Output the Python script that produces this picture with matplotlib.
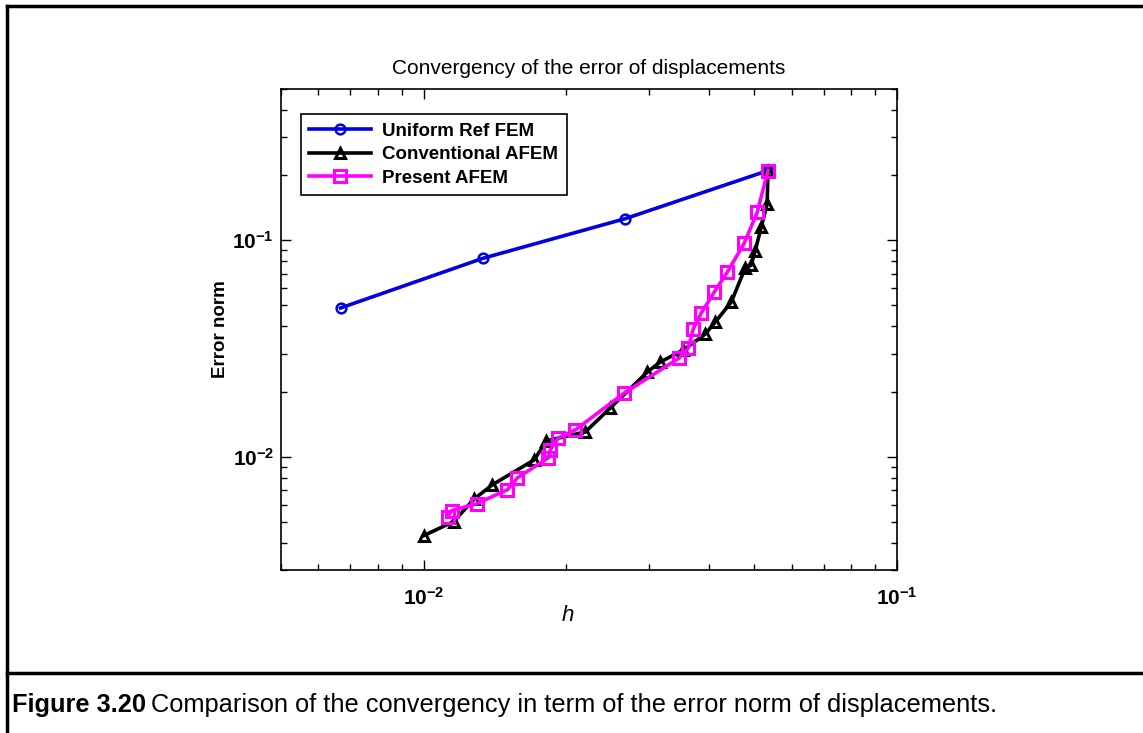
import math
import matplotlib
matplotlib.use('Agg')
import matplotlib.pyplot as plt
from matplotlib.lines import Line2D
from matplotlib.ticker import LogLocator, FuncFormatter, NullFormatter

plt.rcParams['font.family'] = ['Liberation Sans', 'DejaVu Sans']
plt.rcParams['mathtext.fontset'] = 'custom'
plt.rcParams['mathtext.rm'] = 'Liberation Sans'
plt.rcParams['mathtext.it'] = 'Liberation Sans:italic'
plt.rcParams['mathtext.bf'] = 'Liberation Sans:bold'

# data
h_uniform = [0.00668, 0.01335, 0.0267, 0.0534]
err_uniform = [0.0487, 0.0826, 0.126, 0.210]

h_conv = [0.01, 0.01157, 0.01281, 0.01398, 0.01714, 0.01817, 0.02197, 0.0248,
          0.02969, 0.03162, 0.03536, 0.03936, 0.0413, 0.04465, 0.04777, 0.0492,
          0.05015, 0.05165, 0.05317, 0.0534]
err_conv = [0.00432, 0.00502, 0.0064, 0.00743, 0.00969, 0.01185, 0.01303, 0.01682,
            0.02464, 0.02741, 0.03112, 0.03689, 0.04188, 0.0518, 0.0743, 0.0767,
            0.089, 0.1148, 0.1466, 0.210]

h_present = [0.01124, 0.01146, 0.01294, 0.01504, 0.01579, 0.01835, 0.01853, 0.01927,
             0.02093, 0.02655, 0.03467, 0.03624, 0.03712, 0.03859, 0.04111, 0.04379,
             0.04756, 0.05066, 0.0534]
err_present = [0.00529, 0.00564, 0.00607, 0.00705, 0.008, 0.00989, 0.01077, 0.01223,
               0.01332, 0.01972, 0.02859, 0.03178, 0.0389, 0.04609, 0.0576, 0.0712,
               0.0969, 0.1346, 0.210]

W, H = 1143, 733
fig = plt.figure(figsize=(W / 100, H / 100), dpi=100)
ax = fig.add_axes([281 / W, 1 - 570 / H, (897 - 281) / W, (570 - 89) / H])

ax.loglog(h_uniform, err_uniform, '-o', color='#0000e0', lw=2.6, ms=7,
          mfc='none', mew=1.8, label='Uniform Ref FEM')
ax.loglog(h_conv, err_conv, '-^', color='black', lw=2.6, ms=7.5,
          mfc='none', mew=2.2, label='Conventional AFEM')
ax.loglog(h_present, err_present, '-s', color='#ff00ff', lw=2.6, ms=8,
          mfc='none', mew=2.2, label='Present AFEM')

ax.set_xlim(0.005, 0.1)
ax.set_ylim(0.003, 0.5)

def pow_fmt(v, pos):
    e = int(round(math.log10(v)))
    return r'$\mathbf{10^{%d}}$' % e

for a in (ax.xaxis, ax.yaxis):
    a.set_major_locator(LogLocator(base=10, numticks=10))
    a.set_minor_locator(LogLocator(base=10, subs=range(2, 10), numticks=20))
    a.set_major_formatter(FuncFormatter(pow_fmt))
    a.set_minor_formatter(NullFormatter())

ax.tick_params(which='both', direction='in', top=True, right=True, labelsize=15)
ax.tick_params(which='major', length=7, width=1)
ax.tick_params(which='minor', length=4, width=1)
ax.tick_params(axis='x', which='major', pad=12)
ax.tick_params(axis='y', which='major', pad=5)
for s in ax.spines.values():
    s.set_linewidth(1.2)

ax.set_title('Convergency of the error of displacements', fontsize=15, pad=11)
ax.set_xlabel('$h$', fontsize=16)
ax.set_ylabel('Error norm', fontsize=13.5, fontweight='bold')
ax.xaxis.set_label_coords(0.466, -0.073)
ax.yaxis.set_label_coords(-0.084, 0.5)

leg = ax.legend(loc='upper left', bbox_to_anchor=(0.032, 0.948), fancybox=False,
                edgecolor='black', framealpha=1, handlelength=3.3,
                prop={'size': 13.5, 'weight': 'bold'}, borderpad=0.45,
                labelspacing=0.35, borderaxespad=0, handletextpad=0.6)
leg.get_frame().set_linewidth(1.2)

# page frame around figure and caption
fig.add_artist(Line2D([7 / W, 7 / W], [0, 1 - 6 / H], color='black', lw=2.5))
fig.add_artist(Line2D([7 / W, 1], [1 - 6 / H, 1 - 6 / H], color='black', lw=2.5))
fig.add_artist(Line2D([7 / W, 1], [1 - 673 / H, 1 - 673 / H], color='black', lw=2.5))

cap1 = fig.text(12 / W, 1 - 705 / H, 'Figure 3.20', fontsize=18.3,
                fontweight='bold', va='center')
fig.canvas.draw()
bb = cap1.get_window_extent()
fig.text(bb.x1 / W + 5 / W, 1 - 705 / H,
         'Comparison of the convergency in term of the error norm of displacements.',
         fontsize=18.3, va='center')

fig.savefig('out.png', dpi=100)
